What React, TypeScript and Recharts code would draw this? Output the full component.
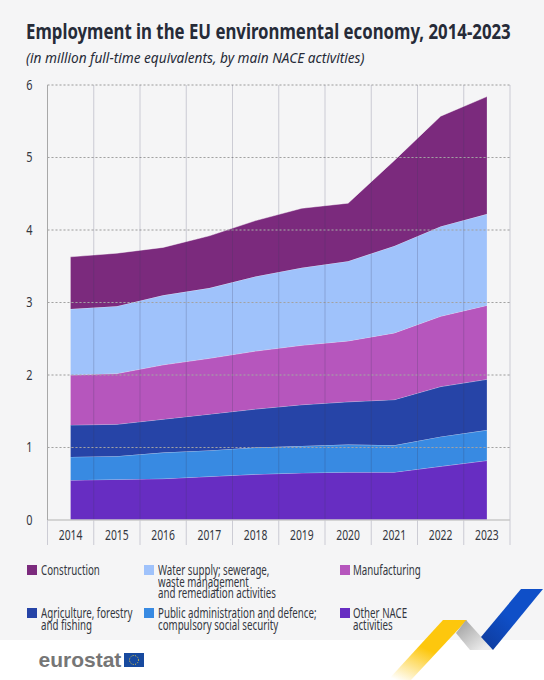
import React from "react";
import { AreaChart, Area, XAxis, YAxis, ReferenceLine } from "recharts";

const years = [2014, 2015, 2016, 2017, 2018, 2019, 2020, 2021, 2022, 2023];
const other = [0.55, 0.56, 0.57, 0.6, 0.63, 0.65, 0.66, 0.66, 0.74, 0.82];
const publicAdmin = [0.32, 0.32, 0.36, 0.36, 0.37, 0.37, 0.38, 0.37, 0.41, 0.42];
const agriculture = [0.44, 0.44, 0.46, 0.5, 0.53, 0.57, 0.59, 0.63, 0.69, 0.7];
const manufacturing = [0.69, 0.7, 0.75, 0.77, 0.8, 0.82, 0.84, 0.92, 0.97, 1.02];
const water = [0.91, 0.93, 0.96, 0.97, 1.03, 1.07, 1.1, 1.2, 1.24, 1.26];
const construction = [0.72, 0.73, 0.66, 0.72, 0.77, 0.82, 0.8, 1.18, 1.52, 1.62];
const yTicks = [0, 1, 2, 3, 4, 5, 6];
const boundaries = [2013.5, 2014.5, 2015.5, 2016.5, 2017.5, 2018.5, 2019.5, 2020.5, 2021.5, 2022.5, 2023.5];

const data = years.map((year, i) => ({
  year,
  other: other[i],
  publicAdmin: publicAdmin[i],
  agriculture: agriculture[i],
  manufacturing: manufacturing[i],
  water: water[i],
  construction: construction[i],
}));

const seriesStack = [
  { key: "other", color: "#672dc2" },
  { key: "publicAdmin", color: "#388ae2" },
  { key: "agriculture", color: "#2644a7" },
  { key: "manufacturing", color: "#b656bd" },
  { key: "water", color: "#9fc2fb" },
  { key: "construction", color: "#7b2a7d" },
];

const legendItems = [
  { x: 27, y: 565, color: "#7b2a7d", lines: ["Construction"] },
  { x: 144, y: 565, color: "#9fc2fb", lines: ["Water supply; sewerage,", "waste management", "and remediation activities"] },
  { x: 339.5, y: 565, color: "#b656bd", lines: ["Manufacturing"] },
  { x: 27, y: 608, color: "#2644a7", lines: ["Agriculture, forestry", "and fishing"] },
  { x: 144, y: 608, color: "#388ae2", lines: ["Public administration and defence;", "compulsory social security"] },
  { x: 339.5, y: 608, color: "#672dc2", lines: ["Other NACE", "activities"] },
];

const FONT = "'Noto Sans', sans-serif";
const squeezed = (x: number, y: number, sx: number): React.CSSProperties => ({
  position: "absolute",
  left: x,
  top: y,
  whiteSpace: "nowrap",
  transform: `scaleX(${sx})`,
  transformOrigin: "left top",
  fontFamily: FONT,
});

export default function App() {
  return (
    <div style={{ position: "absolute", left: 0, top: 0, width: 544, height: 680, background: "#ffffff", overflow: "hidden" }}>
      <div style={{ position: "absolute", left: 0, top: 0, width: 544, height: 640, background: "#f5f5f6" }} />
      <div style={{ ...squeezed(26, 15, 0.763), fontSize: 22, lineHeight: "30px", fontWeight: 700, color: "#262b38" }}>
        Employment in the EU environmental economy, 2014-2023
      </div>
      <div style={{ ...squeezed(26, 47, 0.91), fontSize: 15, lineHeight: "20px", fontStyle: "italic", color: "#262b38" }}>
        (in million full-time equivalents, by main NACE activities)
      </div>

      <div style={{ position: "absolute", left: 0, top: 70 }}>
        <AreaChart
          width={544}
          height={490}
          data={data}
          margin={{ top: 15, right: 34, bottom: 0, left: 0 }}
        >
          <XAxis
            dataKey="year"
            type="number"
            domain={[2013.5, 2023.5]}
            ticks={years}
            allowDataOverflow
            tickLine={false}
            axisLine={{ stroke: "#c8c8c8", strokeWidth: 1.5 }}
            interval={0}
            height={40}
            tickMargin={4}
            tick={{ fontSize: 14, fill: "#333640", fontFamily: FONT, style: { transform: "scaleX(0.74)", transformBox: "fill-box", transformOrigin: "center" } }}
          />
          <YAxis
            type="number"
            domain={[0, 6]}
            ticks={yTicks}
            width={47.5}
            tickLine={false}
            axisLine={{ stroke: "#a8a8a8" }}
            tickMargin={8}
            tick={{ fontSize: 14, fill: "#333640", fontFamily: FONT, style: { transform: "scaleX(0.78)", transformBox: "fill-box", transformOrigin: "center" } }}
          />
          {yTicks.slice(1).map((t) => (
            <ReferenceLine key={t} y={t} stroke="#c2c2c2" strokeDasharray="2 2" strokeWidth={1} />
          ))}
          {seriesStack.map((s) => (
            <Area
              key={s.key}
              dataKey={s.key}
              stackId="a"
              type="linear"
              fill={s.color}
              fillOpacity={1}
              stroke="#ffffff"
              strokeOpacity={0.45}
              strokeWidth={1}
              dot={false}
              activeDot={false}
              isAnimationActive={false}
            />
          ))}
          {yTicks.slice(1).map((t) => (
            <ReferenceLine key={"o" + t} y={t} stroke="#333" strokeOpacity={0.22} strokeDasharray="2 2" strokeWidth={1} />
          ))}
          {boundaries.map((b) => (
            <ReferenceLine
              key={b}
              segment={[{ x: b, y: 6 }, { x: b, y: -0.345 }]}
              ifOverflow="visible"
              stroke="#3a3a5a"
              strokeOpacity={0.22}
              strokeWidth={1}
            />
          ))}
        </AreaChart>
      </div>

      {legendItems.map((item) => (
        <div key={item.color}>
          <div style={{ position: "absolute", left: item.x, top: item.y, width: 10, height: 10, background: item.color }} />
          {item.lines.map((line, i) => (
            <div key={line} style={{ ...squeezed(item.x + 13.5, item.y + i * 11.5, 0.72), fontSize: 13.5, lineHeight: "11px", height: 11, color: "#333640" }}>
              {line}
            </div>
          ))}
        </div>
      ))}

      <div style={{ position: "absolute", left: 38.5, top: 647, fontFamily: "'Liberation Sans', Arial, sans-serif", fontWeight: 700, fontSize: 21, lineHeight: "26px", color: "#767676", whiteSpace: "nowrap" }}>
        eurostat
      </div>
      <svg width={544} height={680} style={{ position: "absolute", left: 0, top: 0, pointerEvents: "none" }}>
        <defs>
          <linearGradient id="yel" x1="0.7" y1="0" x2="0.1" y2="1">
            <stop offset="0.45" stopColor="#fdc70d" />
            <stop offset="1" stopColor="#fdc70d" stopOpacity="0" />
          </linearGradient>
          <linearGradient id="gry" x1="0" y1="0" x2="1" y2="1">
            <stop offset="0" stopColor="#9a9a9a" />
            <stop offset="0.85" stopColor="#ececec" />
          </linearGradient>
          <linearGradient id="blu" x1="0" y1="1" x2="1" y2="0">
            <stop offset="0" stopColor="#0e3a9a" />
            <stop offset="0.5" stopColor="#0f4fc8" />
          </linearGradient>
        </defs>
        <polygon points="443,620 467,620 411,680 388,680" fill="url(#yel)" />
        <polygon points="466,620 456,633 470,650 493,650" fill="url(#gry)" />
        <polygon points="521,589 543,589 493,650 481,637" fill="url(#blu)" />
        <rect x="124" y="653" width="20" height="14" fill="#174a9f" />
        <circle cx="134" cy="660" r="4.5" fill="none" stroke="#f5d33c" strokeWidth="1" strokeDasharray="1 1.4" />
      </svg>
    </div>
  );
}
